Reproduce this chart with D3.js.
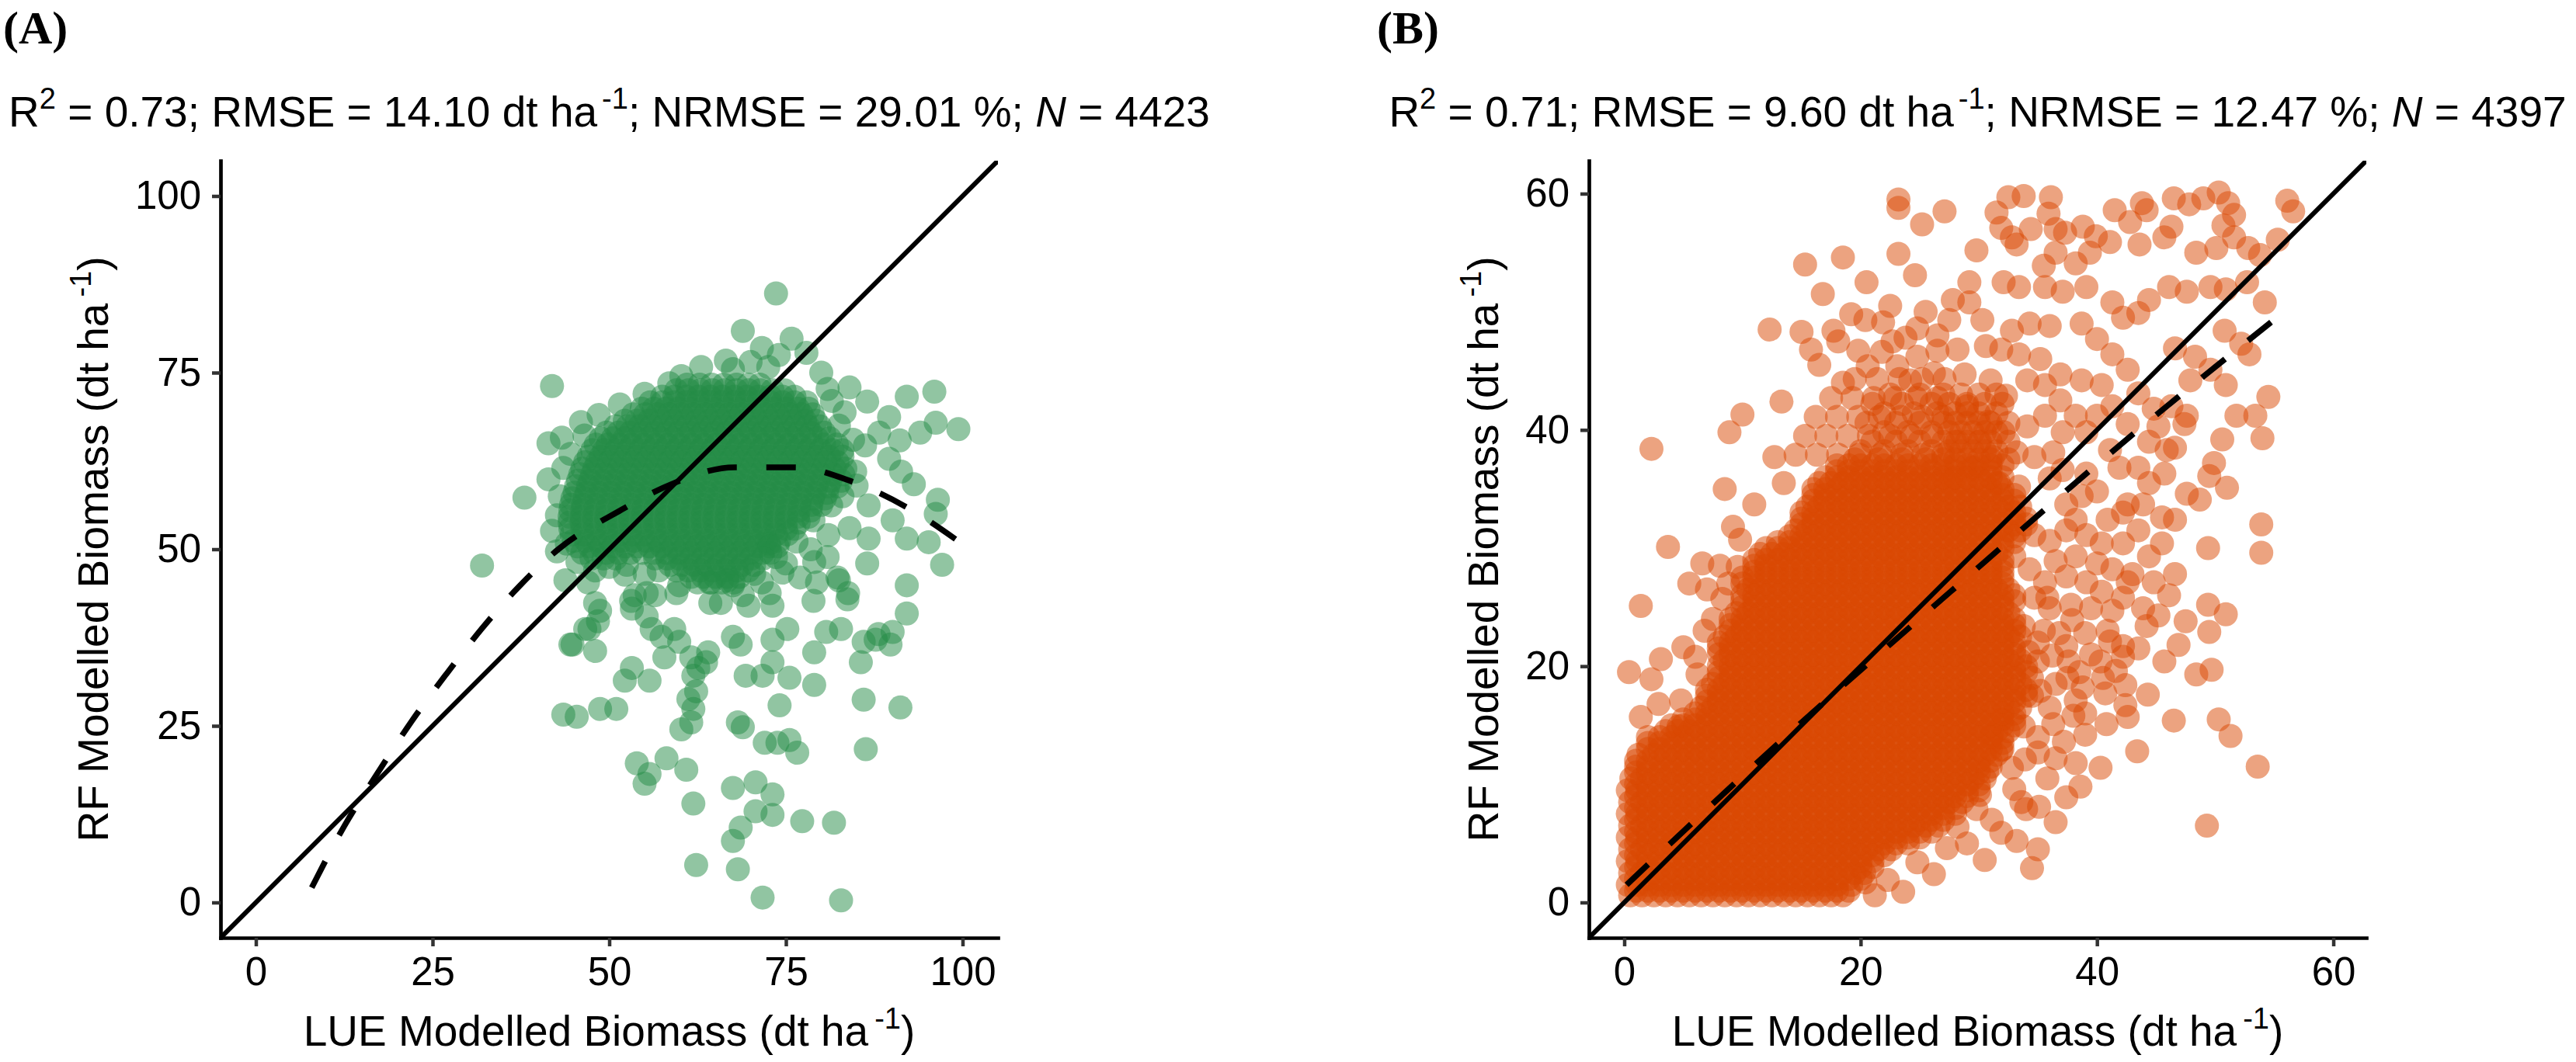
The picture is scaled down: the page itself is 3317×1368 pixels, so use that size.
<!DOCTYPE html>
<html lang="en">
<head>
  <meta charset="UTF-8">
  <title>LUE vs RF Modelled Biomass</title>
  <script src="https://d3js.org/d3.v7.min.js"></script>
  <style>
    body { margin: 0; background: #fff; }
    svg { display: block; background: #fff; }
    .sans { font-family: "Liberation Sans", Arial, Helvetica, sans-serif; fill: #000; }
    .tag { font-family: "Liberation Serif", "Times New Roman", serif; font-weight: bold; font-size: 60px; }
  </style>
</head>
<body>
<svg id="chart"></svg>
<script>
// ---- data ----
const ticksA = [0, 25, 50, 75, 100];
const ticksB = [0, 20, 40, 60];

const r2    = ["0.73", "0.71"];
const rmse  = ["14.10", "9.60"];
const nrmse = ["29.01", "12.47"];
const nObs  = ["4423", "4397"];

// dashed fitted curves
const fitAX = [7.9, 12.5, 17.4, 22, 27, 32, 37.3, 42.8, 51.4, 59, 67.7, 76.2, 84.3, 92, 99.6];
const fitAY = [2.1, 10.8, 18.6, 25.6, 32.4, 38.8, 44.8, 50.0, 55.4, 59.3, 61.6, 61.6, 59.6, 56.0, 51.0];
const fitBX = [0.2, 12.3, 27.6, 43.0, 55.96];
const fitBY = [1.5, 12.8, 26.3, 39.6, 50.1];

// panel A: scattered points [LUE, RF]
const ptsA = [
  [32.0,47.7],[97.1,47.8],[86.5,48.0],[92.1,44.9],[92.1,40.9],[83.7,42.9],[82.5,45.6],[79.4,45.3],[79.0,48.2],[74.5,46.7],
  [73.1,42.0],[72.7,43.8],[68.9,43.5],[67.5,44.9],[64.4,45.3],[65.8,42.4],[59.5,43.8],[55.3,43.8],[53.6,43.5],[52.2,46.4],
  [48.0,42.4],[48.4,39.8],[46.6,38.7],[44.5,36.5],[48.0,35.6],[43.8,45.6],[47.0,45.3],[53.2,41.6],[55.3,40.5],[56.0,38.7],
  [57.4,37.6],[59.2,38.7],[59.9,36.9],[61.6,34.7],[62.6,33.2],[61.9,32.1],[64.0,35.4],[63.7,34.0],[61.2,28.8],[61.9,27.4],
  [61.6,25.5],[60.2,24.5],[57.8,34.7],[53.2,33.2],[52.2,31.4],[55.7,31.4],[43.5,26.6],[45.4,26.3],[48.7,27.4],[51.0,27.4],
  [67.5,37.6],[68.6,36.5],[69.3,32.1],[71.7,32.1],[73.1,34.0],[73.1,37.2],[75.5,31.8],[75.2,38.7],[79.0,35.4],[79.0,30.8],
  [80.7,38.3],[82.8,38.7],[85.6,34.0],[86.0,36.9],[88.1,38.0],[89.8,36.5],[86.0,28.7],[91.2,27.6],[74.1,27.9],[68.2,25.5],
  [68.9,24.8],[72.0,22.6],[73.8,22.6],[76.6,21.2],[75.5,23.0],[86.3,21.7],[62.3,29.9],[53.9,19.7],[58.1,20.4],[55.7,18.2],
  [55.0,16.8],[60.9,18.8],[61.9,14.0],[67.5,16.2],[70.7,17.0],[73.1,15.3],[73.1,12.4],[70.7,12.9],[68.6,10.6],[67.5,8.7],
  [77.3,11.5],[81.8,11.3],[62.3,5.3],[68.2,4.7],[71.7,0.7],[82.8,0.3],
  [73.6,86.2],[68.9,80.9],[71.6,78.5],[75.8,79.8],[77.9,77.8],[66.5,76.7],[60.2,74.5],[41.9,73.1],[84.0,72.9],[92.1,71.6],
  [96.0,72.3],[89.6,68.7],[96.2,67.9],[99.4,67.0],[94.0,66.5],[91.1,65.4],[86.5,70.9],[88.2,66.5],[89.6,62.8],[91.3,61.0],
  [93.1,59.2],[96.5,57.0],[96.2,55.0],[92.1,51.5],[95.2,51.0],[86.7,56.2],[84.0,53.0],[86.7,51.5],[90.1,54.1],[83.8,43.8],
  [82.3,46.0],[38.0,57.3],[41.4,65.0],[43.3,65.8],[46.5,66.1],[41.4,59.9],[42.6,54.8],[41.9,52.6],[42.6,49.7],[84.8,61.0],
  [86.2,64.7],[83.3,69.4],[80.9,72.7],[78.9,54.1],[81.4,56.2],[80.9,48.9],[76.5,51.1],[73.6,48.9],[77.0,46.0],[72.6,50.8],
  [71.6,45.3],[69.7,42.0],[66.7,45.6],[64.3,42.4],[59.9,44.9],[56.5,43.5],[53.1,42.7],[48.7,41.3],[47.2,38.7],[44.8,36.5],
  [78.9,42.7],[90.1,38.3],[87.7,37.2],
  [67.5,75.5],[70.0,76.5],[72.5,75.8],[74.0,77.5],[63.0,75.8],[58.5,73.5],[55.0,72.0],[51.5,70.5],[48.5,69.0],[46.0,68.0],
  [44.5,63.5],[43.5,61.5],[43.0,57.5],[44.0,50.8],[45.5,48.2],[48.0,47.0],[50.0,47.5],[55.0,46.5],[57.0,47.0],[80.0,75.0],
  [81.5,71.0],[82.5,67.5],[84.5,65.5],[85.0,59.0],[83.0,57.5],[81.0,52.0],[78.5,50.0],[75.0,48.0],[70.5,46.5]
];

// panel A: dense core, rows of [RF, LUE...]
const coreA = [
  [73.3, 61,62.8,64.5,66.2,68,69.7,71.3],
  [71.6, 57.5,59.2,60.9,62.6,64.3,66,67.7,69.4,71.1,72.8,74.5,76.2],
  [69.9, 54.6,56.3,58,59.7,61.4,63.1,64.8,66.5,68.2,69.9,71.6,73.3,75,76.7,78.2],
  [68.2, 52.2,53.9,55.6,57.3,59,60.7,62.4,64.1,65.8,67.5,69.2,70.9,72.6,74.3,76,77.7,79.2],
  [66.5, 49.6,51.3,53,54.7,56.4,58.1,59.8,61.5,63.2,64.9,66.6,68.3,70,71.7,73.4,75.1,76.8,78.5,80.4],
  [64.8, 48.1,49.8,51.5,53.2,54.9,56.6,58.3,60,61.7,63.4,65.1,66.8,68.5,70.2,71.9,73.6,75.3,77,78.7,80.4,82.2],
  [63.1, 47.1,48.8,50.5,52.2,53.9,55.6,57.3,59,60.7,62.4,64.1,65.8,67.5,69.2,70.9,72.6,74.3,76,77.7,79.4,81.1,83],
  [61.4, 46.2,47.9,49.6,51.3,53,54.7,56.4,58.1,59.8,61.5,63.2,64.9,66.6,68.3,70,71.7,73.4,75.1,76.8,78.5,80.2,81.9,83.4],
  [59.7, 45.6,47.3,49,50.7,52.4,54.1,55.8,57.5,59.2,60.9,62.6,64.3,66,67.7,69.4,71.1,72.8,74.5,76.2,77.9,79.6,81.3,82.8],
  [58.0, 45.1,46.8,48.5,50.2,51.9,53.6,55.3,57,58.7,60.4,62.1,63.8,65.5,67.2,68.9,70.6,72.3,74,75.7,77.4,79.1,80.8],
  [56.3, 44.6,46.3,48,49.7,51.4,53.1,54.8,56.5,58.2,59.9,61.6,63.3,65,66.7,68.4,70.1,71.8,73.5,75.2,76.9,78.6,80],
  [54.6, 44.4,46.1,47.8,49.5,51.2,52.9,54.6,56.3,58,59.7,61.4,63.1,64.8,66.5,68.2,69.9,71.6,73.3,75,76.7,78.2],
  [52.9, 44.5,46.2,47.9,49.6,51.3,53,54.7,56.4,58.1,59.8,61.5,63.2,64.9,66.6,68.3,70,71.7,73.4,75,76.2],
  [51.2, 45,46.7,48.4,50.1,51.8,53.5,55.2,56.9,58.6,60.3,62,63.7,65.4,67.1,68.8,70.5,72.2,74],
  [49.5, 46.2,47.9,49.6,51.3,53,54.7,56.4,58.1,59.8,61.5,63.2,64.9,66.6,68.3,70,71.7,72.8],
  [47.8, 52.5,58.6,60.3,62,63.7,65.4,67.1,68.8,70.5],
  [46.1, 61.6,63.3,65,66.7,68.4]
];
const coreA2 = [
  [72.5, 59.5,61.2,62.9,64.6,66.3,68,69.7,71.4,73.1,74.8],
  [70.8, 55.8,57.5,59.2,60.9,62.6,64.3,66,67.7,69.4,71.1,72.8,74.5,76.2,77.9],
  [69.1, 53.4,55.1,56.8,58.5,60.2,61.9,63.6,65.3,67,68.7,70.4,72.1,73.8,75.5,77.2,78.8],
  [67.4, 50.9,52.6,54.3,56,57.7,59.4,61.1,62.8,64.5,66.2,67.9,69.6,71.3,73,74.7,76.4,78.1,79.8],
  [65.7, 48.8,50.5,52.2,53.9,55.6,57.3,59,60.7,62.4,64.1,65.8,67.5,69.2,70.9,72.6,74.3,76,77.7,79.4,81.2],
  [64.0, 47.6,49.3,51,52.7,54.4,56.1,57.8,59.5,61.2,62.9,64.6,66.3,68,69.7,71.4,73.1,74.8,76.5,78.2,79.9,81.6,83],
  [62.3, 46.6,48.3,50,51.7,53.4,55.1,56.8,58.5,60.2,61.9,63.6,65.3,67,68.7,70.4,72.1,73.8,75.5,77.2,78.9,80.6,82.3],
  [60.6, 45.9,47.6,49.3,51,52.7,54.4,56.1,57.8,59.5,61.2,62.9,64.6,66.3,68,69.7,71.4,73.1,74.8,76.5,78.2,79.9,81.6,83.1],
  [58.9, 45.3,47,48.7,50.4,52.1,53.8,55.5,57.2,58.9,60.6,62.3,64,65.7,67.4,69.1,70.8,72.5,74.2,75.9,77.6,79.3,81,82.3],
  [57.2, 44.8,46.5,48.2,49.9,51.6,53.3,55,56.7,58.4,60.1,61.8,63.5,65.2,66.9,68.6,70.3,72,73.7,75.4,77.1,78.8,80.5],
  [55.5, 44.5,46.2,47.9,49.6,51.3,53,54.7,56.4,58.1,59.8,61.5,63.2,64.9,66.6,68.3,70,71.7,73.4,75.1,76.8,78.5],
  [53.8, 44.4,46.1,47.8,49.5,51.2,52.9,54.6,56.3,58,59.7,61.4,63.1,64.8,66.5,68.2,69.9,71.6,73.3,75,76.8],
  [52.1, 44.7,46.4,48.1,49.8,51.5,53.2,54.9,56.6,58.3,60,61.7,63.4,65.1,66.8,68.5,70.2,71.9,73.6,75.2],
  [50.4, 45.5,47.2,48.9,50.6,52.3,54,55.7,57.4,59.1,60.8,62.5,64.2,65.9,67.6,69.3,71,72.7,73.8],
  [48.7, 47.5,49.2,50.9,56.5,58.2,59.9,61.6,63.3,65,66.7,68.4,70.1,71.8],
  [47.0, 59.5,61.2,62.9,64.6,66.3,68,69.7],
  [45.3, 62.5,64.2,65.9,67.6]
];

// panel B: scattered points [LUE, RF]
const ptsB = [
  [2.3,38.4],[3.7,30.1],[8.9,39.8],[10.0,41.3],[13.3,42.4],[12.3,48.5],[15.0,48.3],[15.3,54.0],[18.5,54.6],[23.2,54.9],
  [24.6,53.1],[23.2,59.5],[23.2,58.8],[25.2,57.4],[27.1,58.5],[29.8,55.2],[32.5,59.7],[33.8,59.8],[36.1,59.7],[31.5,58.4],
  [31.9,57.1],[32.8,56.3],[33.2,55.7],[35.9,58.3],[34.4,57.0],[36.5,57.0],[37.3,56.7],[38.8,57.2],[39.9,56.4],[41.5,58.6],
  [42.8,57.6],[44.2,58.6],[43.8,59.2],[46.5,59.6],[47.8,59.1],[49.0,59.6],[50.3,60.1],[51.1,59.2],[51.6,58.2],[50.7,57.3],
  [51.6,56.3],[52.8,55.4],[50.1,55.4],[46.3,57.2],[45.7,56.3],[48.4,55.0],[55.3,56.1],[56.1,59.4],[56.6,58.5],[53.8,54.8],
  [43.6,55.7],[41.1,55.9],[39.4,55.0],[38.2,54.1],[36.5,55.0],[35.5,53.9],
  [24.8,48.6],[21.9,49.1],[20.4,49.3],[17.7,48.4],[18.1,47.5],[19.8,46.7],[20.6,45.4],[22.7,47.5],[23.1,45.4],[24.8,46.2],
  [26.5,46.7],[26.5,48.0],[8.5,35.0],[9.2,31.8],[9.8,30.7],[11.0,33.7],[12.7,37.7],[13.5,35.5],
  [16.5,45.5],[18.5,44.0],[15.8,46.8],[21.8,46.6],[23.8,47.8],[19.2,49.8],[22.5,50.5],[25.5,50.0],[27.8,51.0],[16.8,51.5],
  [20.5,52.5],[26.2,44.8],[24.2,44.2],
  [49.3,6.5],[53.6,11.5],[46.5,15.4],[50.3,15.5],[51.3,14.1],[43.4,12.8],[40.3,11.4],[37.4,8.9],[35.0,4.5],[33.2,5.2],
  [31.9,5.9],[33.6,8.5],[35.1,8.1],[36.5,12.2],[35.0,12.7],[35.0,14.0],[36.3,15.1],[39.0,14.2],[39.0,16.0],[42.6,15.7],
  [42.4,16.7],[40.7,17.7],[42.4,18.4],[45.7,20.4],[48.4,19.3],[49.7,19.7],[40.5,19.0],[38.2,17.1],[42.2,20.8],[42.2,21.7],
  [41.1,22.1],[40.3,20.4],[37.6,20.4],[37.4,21.7],[35.0,20.4],[39.0,22.8],[40.9,23.0],[33.8,14.9],[31.9,15.5],[31.1,14.2],
  [31.9,12.9],[32.8,11.4],[30.7,11.1],[33.0,9.6],[34.0,7.9],[31.1,7.0],[29.0,5.0],[27.3,4.6],[24.8,3.4],[22.3,1.9],
  [20.4,1.7],[29.8,7.9],[49.5,22.9],[35.5,23.0],[36.5,18.5],[37.5,19.0],[34.5,17.5],[36.0,16.5],[38.5,19.5],[39.5,21.0],
  [36.8,22.8],[35.0,22.0],[34.5,19.0],
  [34.2,21.2],[36.2,20.9],[38.8,18.2],[41.6,19.6],[43.5,21.5],[44.2,23.4],[37.9,23.9],[35.8,25.8],[33.8,23.4],[35.2,17.9],
  [37.2,13.6],[38.0,15.8],[40.8,15.1],[44.3,17.6],[46.9,21.8],[47.5,23.8],[33.9,12.1],[35.8,10.5],[38.2,11.8],[36.5,6.8],
  [38.6,9.8],[34.5,2.9],[30.5,3.6],[26.2,2.4],[23.6,0.9],[21.2,0.6],[28.2,6.4],[30.1,9.1],
  [1.4,25.1],[0.4,19.5],[2.3,18.9],[3.1,20.6],[5.0,21.6],[6.0,20.8],[6.2,19.3],[4.8,17.1],[2.9,16.8],[1.4,15.7],
  [4.6,14.9],[6.6,28.7],[8.1,28.5],[9.6,28.4],[8.3,25.7],[5.5,27.0],[7.0,26.5],[7.5,24.0],[6.8,23.0],[8.8,27.0],
  [54.2,50.8],[54.5,42.8],[51.8,41.2],[53.4,41.2],[54.0,39.3],[50.6,39.2],[49.9,37.2],[49.5,36.1],[51.0,35.1],[53.9,32.0],
  [53.9,29.6],[49.4,30.0],[49.4,25.2],[50.9,24.4],[50.9,43.8],[52.9,46.4],[52.2,47.3],[50.8,48.4],[52.7,52.5],[50.9,51.9],
  [49.6,45.1],[48.7,34.1],[47.6,34.6],[46.6,38.5],[47.6,41.2],[46.3,42.0],[47.9,44.2],[46.6,32.4],[46.6,27.8],[45.5,30.4],
  [46.1,26.0],[44.8,27.1],[45.2,24.3],[43.9,24.9],[42.6,27.1],[44.4,29.3],[42.6,33.7],[44.4,35.5],[45.7,36.3],[43.5,36.8],
  [41.9,36.8],[41.1,38.3],[44.8,41.8],[44.4,39.0],[45.9,38.3],[45.2,40.3],[47.4,40.5],[42.6,40.5],[41.3,42.0],[40.0,41.2],
  [43.5,43.1],[48.3,46.2],[46.6,46.9],[49.6,52.1],[47.6,51.7],[46.1,52.1],[44.4,51.0],[43.5,49.9],[42.2,49.5],[41.3,50.8],
  [39.1,52.1],[37.1,51.7],[35.6,52.1],[33.4,52.1],[32.1,52.5],[29.2,52.5],[29.2,50.8],[30.3,49.3],[27.5,49.3],[32.8,48.4],
  [34.3,49.0],[36.0,48.8],[38.7,49.0],[40.0,47.7],[41.3,46.4],[42.6,45.1],[40.4,43.8],[38.7,44.2],[36.9,44.7],[35.2,46.0],
  [33.4,46.4],[31.9,46.8],[30.6,47.1],[28.2,46.8],[28.8,44.7],[31.0,44.2],[32.3,42.9],[34.1,44.2],[35.6,43.8],[36.9,42.5],
  [38.2,41.2],[39.1,39.8],[29.0,42.0],[30.8,40.7],[28.2,39.0],[30.1,39.0],[32.1,39.8],[34.1,40.3],[35.6,41.2],[37.1,39.8],
  [36.3,38.1],[34.7,37.7],[33.2,38.1],[31.2,37.7],[29.5,36.8],[27.7,35.9],[31.7,35.5],[33.4,35.2],[36.0,35.9],[37.1,36.6],
  [39.1,36.3],[40.0,34.8],[38.7,34.4],[37.4,33.7],[38.2,32.4],[40.9,32.4],[42.2,33.0],[43.9,33.7],[45.5,32.6],[43.5,31.5],
  [42.2,30.4],[40.4,30.4],[39.1,31.1],[37.4,31.5],[36.0,30.6],[34.7,31.1],[36.5,28.9],[38.2,29.3],[40.0,28.7],[41.3,28.2],
  [43.0,27.8],[42.2,25.8],[40.4,26.3],[39.1,27.1],[37.4,27.6],[35.6,27.1],[34.3,28.2],[33.0,29.3],[37.8,25.2],[39.5,24.9],
  [41.3,24.7],[36.0,24.9],[34.7,25.8]
];

// panel B: dense core, rows of [RF, LUE...]
const coreB = [
  [0.6, 0.5,1.5,2.5,3.5,4.5,5.5,6.5,7.5,8.5,9.5,10.5,11.5,12.5,13.5,14.5,15.5,16.5,17.5,18.5],
  [1.5, 0.3,1.1,2,3,4,5,6,7,8,9,10,11,12,13,14,15,16,17,18,19.2],
  [2.5, 0.5,1.5,2.5,3.5,4.5,5.5,6.5,7.5,8.5,9.5,10.5,11.5,12.5,13.5,14.5,15.5,16.5,17.5,18.5,19.5,20.3],
  [3.5, 0.3,1.1,2,3,4,5,6,7,8,9,10,11,12,13,14,15,16,17,18,19,20,21],
  [4.5, 0.5,1.5,2.5,3.5,4.5,5.5,6.5,7.5,8.5,9.5,10.5,11.5,12.5,13.5,14.5,15.5,16.5,17.5,18.5,19.5,20.5,21.5,22.6],
  [5.5, 0.3,1.1,2,3,4,5,6,7,8,9,10,11,12,13,14,15,16,17,18,19,20,21,22,23,24,25],
  [6.5, 0.5,1.5,2.5,3.5,4.5,5.5,6.5,7.5,8.5,9.5,10.5,11.5,12.5,13.5,14.5,15.5,16.5,17.5,18.5,19.5,20.5,21.5,22.5,23.5,24.5,25.5,26.6],
  [7.5, 0.3,1.1,2,3,4,5,6,7,8,9,10,11,12,13,14,15,16,17,18,19,20,21,22,23,24,25,26,27,28],
  [8.5, 0.5,1.5,2.5,3.5,4.5,5.5,6.5,7.5,8.5,9.5,10.5,11.5,12.5,13.5,14.5,15.5,16.5,17.5,18.5,19.5,20.5,21.5,22.5,23.5,24.5,25.5,26.5,27.5,28.6],
  [9.5, 0.3,1.1,2,3,4,5,6,7,8,9,10,11,12,13,14,15,16,17,18,19,20,21,22,23,24,25,26,27,28,29,30],
  [10.5, 0.6,1.5,2.5,3.5,4.5,5.5,6.5,7.5,8.5,9.5,10.5,11.5,12.5,13.5,14.5,15.5,16.5,17.5,18.5,19.5,20.5,21.5,22.5,23.5,24.5,25.5,26.5,27.5,28.5,29.5,30.5],
  [11.5, 1,2,3,4,5,6,7,8,9,10,11,12,13,14,15,16,17,18,19,20,21,22,23,24,25,26,27,28,29,30,31],
  [12.5, 1.2,2.5,3.5,4.5,5.5,6.5,7.5,8.5,9.5,10.5,11.5,12.5,13.5,14.5,15.5,16.5,17.5,18.5,19.5,20.5,21.5,22.5,23.5,24.5,25.5,26.5,27.5,28.5,29.5,30.5,31.5],
  [13.5, 2,3,4,5,6,7,8,9,10,11,12,13,14,15,16,17,18,19,20,21,22,23,24,25,26,27,28,29,30,31,32],
  [14.5, 3.5,4.5,5.5,6.5,7.5,8.5,9.5,10.5,11.5,12.5,13.5,14.5,15.5,16.5,17.5,18.5,19.5,20.5,21.5,22.5,23.5,24.5,25.5,26.5,27.5,28.5,29.5,30.5,31.5,32.5],
  [15.5, 5,6,7,8,9,10,11,12,13,14,15,16,17,18,19,20,21,22,23,24,25,26,27,28,29,30,31,32,33],
  [16.5, 6.5,7.5,8.5,9.5,10.5,11.5,12.5,13.5,14.5,15.5,16.5,17.5,18.5,19.5,20.5,21.5,22.5,23.5,24.5,25.5,26.5,27.5,28.5,29.5,30.5,31.5,32.5,33.5],
  [17.5, 7,8,9,10,11,12,13,14,15,16,17,18,19,20,21,22,23,24,25,26,27,28,29,30,31,32,33,34],
  [18.5, 7.5,8.5,9.5,10.5,11.5,12.5,13.5,14.5,15.5,16.5,17.5,18.5,19.5,20.5,21.5,22.5,23.5,24.5,25.5,26.5,27.5,28.5,29.5,30.5,31.5,32.5,33.5],
  [19.5, 8,9,10,11,12,13,14,15,16,17,18,19,20,21,22,23,24,25,26,27,28,29,30,31,32,33,34],
  [20.5, 8.5,9.5,10.5,11.5,12.5,13.5,14.5,15.5,16.5,17.5,18.5,19.5,20.5,21.5,22.5,23.5,24.5,25.5,26.5,27.5,28.5,29.5,30.5,31.5,32.5,33.5],
  [21.5, 8,9,10,11,12,13,14,15,16,17,18,19,20,21,22,23,24,25,26,27,28,29,30,31,32,33],
  [22.5, 8.5,9.5,10.5,11.5,12.5,13.5,14.5,15.5,16.5,17.5,18.5,19.5,20.5,21.5,22.5,23.5,24.5,25.5,26.5,27.5,28.5,29.5,30.5,31.5,32.5,33.5],
  [23.5, 9,10,11,12,13,14,15,16,17,18,19,20,21,22,23,24,25,26,27,28,29,30,31,32,33],
  [24.5, 9.5,10.5,11.5,12.5,13.5,14.5,15.5,16.5,17.5,18.5,19.5,20.5,21.5,22.5,23.5,24.5,25.5,26.5,27.5,28.5,29.5,30.5,31.5,32.5],
  [25.5, 10,11,12,13,14,15,16,17,18,19,20,21,22,23,24,25,26,27,28,29,30,31,32,33],
  [26.5, 10.5,11.5,12.5,13.5,14.5,15.5,16.5,17.5,18.5,19.5,20.5,21.5,22.5,23.5,24.5,25.5,26.5,27.5,28.5,29.5,30.5,31.5,32.5],
  [27.5, 10,11,12,13,14,15,16,17,18,19,20,21,22,23,24,25,26,27,28,29,30,31,32],
  [28.5, 11,12,13,14,15,16,17,18,19,20,21,22,23,24,25,26,27,28,29,30,31,32],
  [29.5, 11.5,12.5,13.5,14.5,15.5,16.5,17.5,18.5,19.5,20.5,21.5,22.5,23.5,24.5,25.5,26.5,27.5,28.5,29.5,30.5,31.5],
  [30.5, 13,14,15,16,17,18,19,20,21,22,23,24,25,26,27,28,29,30,31,32,33],
  [31.5, 14.5,15.5,16.5,17.5,18.5,19.5,20.5,21.5,22.5,23.5,24.5,25.5,26.5,27.5,28.5,29.5,30.5,31.5,32.5,33.5],
  [32.5, 15,16,17,18,19,20,21,22,23,24,25,26,27,28,29,30,31,32,33,34],
  [33.5, 15.5,16.5,17.5,18.5,19.5,20.5,21.5,22.5,23.5,24.5,25.5,26.5,27.5,28.5,29.5,30.5,31.5,32.5,33.5],
  [34.5, 16,17,18,19,20,21,22,23,24,25,26,27,28,29,30,31,32,33],
  [35.5, 16.5,17.5,18.5,19.5,20.5,21.5,22.5,23.5,24.5,25.5,26.5,27.5,28.5,29.5,30.5,31.5],
  [36.5, 18,19,20,21,22,23,24,25,26,27,28,29,30,31],
  [37.9, 14.5,16.3,18.1,19.9,21.7,23.5,25.3,27],
  [39.5, 15.3,17.1,18.9,20.7,22.5,24.3,26.1],
  [41.1, 16.2,18,19.8,21.6,23.4,25.2,27],
  [42.7, 17.5,19.3,21.1,22.9,24.7,26.5],
  [44.3, 19.5,21.4,23.3,25.2,27.1]
];
const coreB2 = [
  [1.0, 1,2,3,4,5,6,7,8,9,10,11,12,13,14,15,16,17,18,19],
  [2.0, 1,2,3,4,5,6,7,8,9,10,11,12,13,14,15,16,17,18,19,20],
  [3.0, 1,2,3,4,5,6,7,8,9,10,11,12,13,14,15,16,17,18,19,20,21],
  [4.0, 1,2,3,4,5,6,7,8,9,10,11,12,13,14,15,16,17,18,19,20,21,22],
  [5.0, 1,2,3,4,5,6,7,8,9,10,11,12,13,14,15,16,17,18,19,20,21,22,23,24],
  [6.0, 1,2,3,4,5,6,7,8,9,10,11,12,13,14,15,16,17,18,19,20,21,22,23,24,25,26],
  [7.0, 1,2,3,4,5,6,7,8,9,10,11,12,13,14,15,16,17,18,19,20,21,22,23,24,25,26,27],
  [8.0, 1,2,3,4,5,6,7,8,9,10,11,12,13,14,15,16,17,18,19,20,21,22,23,24,25,26,27,28],
  [9.0, 1,2,3,4,5,6,7,8,9,10,11,12,13,14,15,16,17,18,19,20,21,22,23,24,25,26,27,28,29],
  [10.0, 1,2,3,4,5,6,7,8,9,10,11,12,13,14,15,16,17,18,19,20,21,22,23,24,25,26,27,28,29,30],
  [11.0, 1,2,3,4,5,6,7,8,9,10,11,12,13,14,15,16,17,18,19,20,21,22,23,24,25,26,27,28,29,30],
  [12.0, 1,2,3,4,5,6,7,8,9,10,11,12,13,14,15,16,17,18,19,20,21,22,23,24,25,26,27,28,29,30,31],
  [13.0, 2,3,4,5,6,7,8,9,10,11,12,13,14,15,16,17,18,19,20,21,22,23,24,25,26,27,28,29,30,31,32],
  [14.0, 2,3,4,5,6,7,8,9,10,11,12,13,14,15,16,17,18,19,20,21,22,23,24,25,26,27,28,29,30,31,32],
  [15.0, 4,5,6,7,8,9,10,11,12,13,14,15,16,17,18,19,20,21,22,23,24,25,26,27,28,29,30,31,32,33],
  [16.0, 6,7,8,9,10,11,12,13,14,15,16,17,18,19,20,21,22,23,24,25,26,27,28,29,30,31,32,33],
  [17.0, 7,8,9,10,11,12,13,14,15,16,17,18,19,20,21,22,23,24,25,26,27,28,29,30,31,32,33],
  [18.0, 7,8,9,10,11,12,13,14,15,16,17,18,19,20,21,22,23,24,25,26,27,28,29,30,31,32,33,34],
  [19.0, 8,9,10,11,12,13,14,15,16,17,18,19,20,21,22,23,24,25,26,27,28,29,30,31,32,33],
  [20.0, 8,9,10,11,12,13,14,15,16,17,18,19,20,21,22,23,24,25,26,27,28,29,30,31,32,33,34],
  [21.0, 8,9,10,11,12,13,14,15,16,17,18,19,20,21,22,23,24,25,26,27,28,29,30,31,32,33],
  [22.0, 8,9,10,11,12,13,14,15,16,17,18,19,20,21,22,23,24,25,26,27,28,29,30,31,32,33],
  [23.0, 9,10,11,12,13,14,15,16,17,18,19,20,21,22,23,24,25,26,27,28,29,30,31,32,33],
  [24.0, 9,10,11,12,13,14,15,16,17,18,19,20,21,22,23,24,25,26,27,28,29,30,31,32,33],
  [25.0, 10,11,12,13,14,15,16,17,18,19,20,21,22,23,24,25,26,27,28,29,30,31,32],
  [26.0, 10,11,12,13,14,15,16,17,18,19,20,21,22,23,24,25,26,27,28,29,30,31,32,33],
  [27.0, 10,11,12,13,14,15,16,17,18,19,20,21,22,23,24,25,26,27,28,29,30,31,32],
  [28.0, 11,12,13,14,15,16,17,18,19,20,21,22,23,24,25,26,27,28,29,30,31,32],
  [29.0, 11,12,13,14,15,16,17,18,19,20,21,22,23,24,25,26,27,28,29,30,31,32],
  [30.0, 12,13,14,15,16,17,18,19,20,21,22,23,24,25,26,27,28,29,30,31,32],
  [31.0, 14,15,16,17,18,19,20,21,22,23,24,25,26,27,28,29,30,31,32,33],
  [32.0, 15,16,17,18,19,20,21,22,23,24,25,26,27,28,29,30,31,32,33,34],
  [33.0, 15,16,17,18,19,20,21,22,23,24,25,26,27,28,29,30,31,32,33],
  [34.0, 16,17,18,19,20,21,22,23,24,25,26,27,28,29,30,31,32,33],
  [35.0, 16,17,18,19,20,21,22,23,24,25,26,27,28,29,30,31,32],
  [36.0, 17,18,19,20,21,22,23,24,25,26,27,28,29,30,31,32],
  [37.0, 18,19,20,21,22,23,24,25,26,27,28,29,30,31,32],
  [37.5, 19.5,21.5,23.5,25.5,27,28,29,30,31,32.5],
  [38.2, 20,22,24,26,27.5,28.5,29.5,30.5,31.5],
  [39.0, 21,23,25,27,28,29,30,31,32.5],
  [39.8, 22,24,26,27.5,28.5,29.5,30.5,31.5],
  [40.6, 20.5,23,25,27,28,29,30,31,32.5],
  [41.4, 22,24.5,26.5,28,29,30,31.5],
  [42.2, 21,23.5,26,27.5,29,30.5,32],
  [43.0, 22.5,25,27,28.5,30,31.5]
];

// ---- chart ----
const W = 3317, H = 1368;
const svg = d3.select("#chart").attr("width", W).attr("height", H);

const rowsToPoints = rows => rows.flatMap(([y, ...xs]) => xs.map(x => [x, y]));

const panels = [
  { id: "A", left: 284, top: 207, size: 1001, domain: [-5, 105], ticks: ticksA,
    points: ptsA.concat(rowsToPoints(coreA), rowsToPoints(coreA2)), color: "#238B45",
    fitX: fitAX, fitY: fitAY, tagX: 4, yTitleOff: 145, stat: 0 },
  { id: "B", left: 2046, top: 207, size: 1001, domain: [-2.99, 62.79], ticks: ticksB,
    points: ptsB.concat(rowsToPoints(coreB), rowsToPoints(coreB2)), color: "#D94801",
    fitX: fitBX, fitY: fitBY, tagX: 1773, yTitleOff: 117, stat: 1 }
];

function richText(textSel, parts, shift, supSize) {
  parts.forEach(p => {
    const ts = textSel.append("tspan").text(p.t);
    if (p.sup) ts.attr("dy", -shift).attr("font-size", supSize).attr("dx", p.dx || 0);
    if (p.back) ts.attr("dy", shift);
    if (p.italic) ts.attr("font-style", "italic");
  });
}

panels.forEach(p => {
  const x = d3.scaleLinear().domain(p.domain).range([p.left, p.left + p.size]);
  const y = d3.scaleLinear().domain(p.domain).range([p.top + p.size, p.top]);
  const g = svg.append("g");

  g.append("clipPath").attr("id", "clip" + p.id)
    .append("rect").attr("x", p.left).attr("y", p.top).attr("width", p.size).attr("height", p.size);

  // points
  g.append("g")
    .selectAll("circle")
    .data(p.points)
    .join("circle")
    .attr("cx", d => x(d[0]))
    .attr("cy", d => y(d[1]))
    .attr("r", 15.5)
    .attr("fill", p.color)
    .attr("fill-opacity", 0.5);

  // 1:1 line
  g.append("line")
    .attr("clip-path", `url(#clip${p.id})`)
    .attr("x1", x(p.domain[0])).attr("y1", y(p.domain[0]))
    .attr("x2", x(p.domain[1])).attr("y2", y(p.domain[1]))
    .attr("stroke", "#000").attr("stroke-width", 6);

  // fitted dashed curve
  const fit = p.fitX.map((v, i) => [v, p.fitY[i]]);
  g.append("path")
    .datum(fit)
    .attr("clip-path", `url(#clip${p.id})`)
    .attr("d", d3.line().x(d => x(d[0])).y(d => y(d[1])).curve(d3.curveMonotoneX))
    .attr("fill", "none")
    .attr("stroke", "#000")
    .attr("stroke-width", 7.5)
    .attr("stroke-dasharray", "38,38");

  // axes
  const xAxis = g.append("g")
    .attr("transform", `translate(0,${p.top + p.size})`)
    .call(d3.axisBottom(x).tickValues(p.ticks).tickSize(11).tickSizeOuter(0).tickPadding(14));
  const yAxis = g.append("g")
    .attr("transform", `translate(${p.left},0)`)
    .call(d3.axisLeft(y).tickValues(p.ticks).tickSize(11).tickSizeOuter(0).tickPadding(14));

  [xAxis, yAxis].forEach(ax => {
    ax.attr("font-family", null).attr("font-size", null);
    ax.select(".domain").attr("stroke", "#000").attr("stroke-width", 4.7).attr("stroke-linecap", "square");
    ax.selectAll(".tick line").attr("stroke", "#333").attr("stroke-width", 4.5);
    ax.selectAll(".tick text").attr("class", "sans").attr("font-size", "51px").attr("fill", "#111");
  });

  const cx = p.left + p.size / 2;
  const cy = p.top + p.size / 2;

  // panel tag
  svg.append("text").attr("class", "tag").attr("x", p.tagX).attr("y", 56).text(`(${p.id})`);

  // stats title
  const title = svg.append("text").attr("class", "sans")
    .attr("x", cx).attr("y", 163).attr("text-anchor", "middle").attr("font-size", "55px");
  richText(title, [
    { t: "R" }, { t: "2", sup: true }, { t: ` = ${r2[p.stat]}; RMSE = ${rmse[p.stat]} dt ha`, back: true },
    { t: "-1", sup: true, dx: 6 }, { t: `; NRMSE = ${nrmse[p.stat]} %; `, back: true },
    { t: "N", italic: true }, { t: ` = ${nObs[p.stat]}` }
  ], 23, "38px");

  // x title
  const xt = svg.append("text").attr("class", "sans")
    .attr("x", cx).attr("y", 1347).attr("text-anchor", "middle").attr("font-size", "55px");
  richText(xt, [
    { t: "LUE Modelled Biomass (dt ha" }, { t: "-1", sup: true, dx: 8 }, { t: ")", back: true }
  ], 22, "38px");

  // y title
  const yt = svg.append("text").attr("class", "sans")
    .attr("transform", `translate(${p.left - p.yTitleOff},${cy}) rotate(-90)`)
    .attr("text-anchor", "middle").attr("font-size", "55px");
  richText(yt, [
    { t: "RF Modelled Biomass (dt ha" }, { t: "-1", sup: true, dx: 8 }, { t: ")", back: true }
  ], 22, "38px");
});
</script>
</body>
</html>
